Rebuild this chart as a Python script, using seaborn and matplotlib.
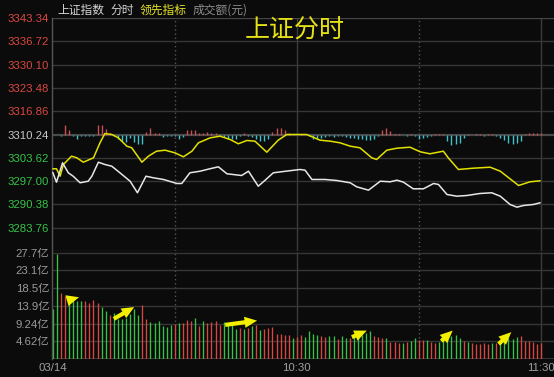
import numpy as np
import matplotlib
matplotlib.use("Agg")
import matplotlib.pyplot as plt
import seaborn as sns

# ---- data (x = minutes after 09:30) ----
white_min = [0, 0.9, 2.4, 3.8, 5.0, 6.7, 8.7, 9.6, 11.2, 12.8, 14.5, 16.5, 19.0, 20.8,
             22.9, 24.7, 27.2, 30.5, 31.7, 33.7, 36.2, 38.6, 40.7, 42.8, 46.4, 48.1,
             50.5, 52.2, 54.2, 56.7, 58.7, 60.8, 62.0, 63.7, 66.9, 69.8, 73.1, 74.7,
             77.6, 80.5, 82.9, 84.6, 86.2, 88.6, 91.1, 93.6, 94.8, 96.9, 99.3, 101.8,
             105.0, 107.9, 110.0, 112.4, 114.1, 115.7, 118.1, 119.8]
white_val = [3299.44, 3296.69, 3302.20, 3299.36, 3298.39, 3296.52, 3296.97, 3298.39,
             3302.37, 3301.72, 3301.23, 3299.36, 3296.97, 3293.68, 3298.39, 3297.94,
             3297.46, 3296.32, 3296.32, 3299.36, 3299.81, 3300.50, 3301.06, 3299.08,
             3298.59, 3299.81, 3295.55, 3297.26, 3299.36, 3299.73, 3300.01, 3300.30,
             3300.10, 3297.46, 3297.46, 3297.17, 3296.52, 3295.38, 3294.42, 3296.97,
             3296.80, 3297.26, 3296.69, 3294.81, 3294.81, 3296.32, 3296.04, 3293.19,
             3292.71, 3292.91, 3293.48, 3293.68, 3292.71, 3290.35, 3289.59, 3290.07,
             3290.35, 3290.84]

yellow_min = [0, 0.9, 1.8, 2.6, 4.6, 5.9, 7.5, 10.0, 11.6, 12.8, 14.5, 16.1, 18.2, 19.4,
              21.9, 23.5, 25.5, 27.6, 30.0, 32.1, 34.2, 35.8, 38.7, 41.1, 43.6, 45.6,
              47.7, 49.7, 52.6, 55.4, 57.5, 60.8, 62.4, 65.7, 68.2, 70.6, 73.1, 75.5,
              78.4, 79.6, 82.1, 84.6, 87.8, 90.3, 92.7, 96.0, 97.2, 99.7, 103.4, 107.5,
              110.0, 114.5, 117.3, 119.8]
yellow_val = [3300.50, 3300.50, 3298.39, 3301.72, 3304.08, 3303.62, 3302.37, 3303.62,
              3307.88, 3310.52, 3310.24, 3309.30, 3306.92, 3306.46, 3302.37, 3304.08,
              3305.50, 3305.78, 3305.04, 3303.90, 3305.50, 3307.88, 3309.30, 3309.76,
              3308.82, 3307.60, 3308.54, 3308.34, 3305.21, 3308.62, 3310.24, 3310.24,
              3310.24, 3308.62, 3308.34, 3307.88, 3306.92, 3306.46, 3303.62, 3303.14,
              3305.78, 3306.35, 3306.63, 3305.33, 3304.76, 3305.50, 3303.62, 3300.30,
              3300.67, 3300.95, 3299.81, 3295.75, 3296.80, 3297.09]

# leading-indicator bars around the previous close, one per minute 0..120
indicator = [0, 0, -0.5, 2.6, 1.4, -0.3, -1.2, -0.4, -0.5, -0.5, -0.3, 2.6, 2.6, 1.6,
             0.3, -0.3, -1.4, -1.9, -2.2, -1.0, -2.2, -2.6, -2.6, 0.7, 1.9, 0.3, 0.3,
             -0.6, -0.5, -0.5, -0.5, -1.2, -0.7, 1.2, 1.2, 1.2, 0.3, 0.3, 0.6, 0.5, 0.4,
             -0.5, -0.7, -1.2, -1.4, -1.4, -0.5, 0.5, -0.5, -0.7, -1.4, -1.9, -1.9, -1.4,
             0.7, 1.9, 1.9, 1.2, 0.5, -0.2, -0.2,
             0.2, 0, -0.3, -1.4, -1.2, -1.0, -0.7, -0.3, -0.7, -0.5, -0.5, -0.7, -1.0,
             -1.0, -1.2, -1.4, -1.6, -1.6, -1.4, -0.3, 1.2, 1.9, 0.9, 0.2, 0.2, -0.2,
             -0.3, 0.2, -0.3, -1.2, -1.0, -0.7, -0.5, 0.2, 0.2, 0.2, -1.9, -3.1, -2.8,
             -2.4, -1.0, 0.2, -0.2, 0.2, 0.2, -0.5, 0.2, 0.2, -0.3, -1.0, -1.6, -2.4,
             -2.8, -2.4, -1.9, 0.2, 0.3, 0.3, 0.3, 0.3]

# turnover per minute (亿元), 1 = up minute (red), 0 = down minute (green)
volume = [13.1, 27.4, 17.2, 16.3, 15.0, 15.2, 15.0, 15.0, 15.0, 14.5, 15.4, 14.5, 13.5,
          12.4, 11.6, 12.1, 10.5, 10.3, 10.7, 11.8, 13.1, 11.4, 14.1, 10.3, 9.6, 9.4,
          9.9, 8.5, 8.3, 8.8, 9.2, 9.4, 9.4, 10.2, 10.0, 10.8, 8.5, 10.0, 9.4, 9.6,
          9.8, 8.8, 9.6, 9.2, 8.8, 7.9, 8.1, 7.9, 8.1, 8.5, 8.8, 7.6, 7.9, 8.1, 8.3,
          6.6, 6.6, 6.2, 6.2, 5.6, 5.8,
          6.2, 5.8, 7.2, 6.6, 6.2, 6.0, 5.8, 6.0, 6.0, 5.2, 6.0, 5.6, 5.4, 5.8, 6.0,
          6.2, 6.9, 7.3, 6.0, 5.7, 5.6, 5.4, 4.5, 4.5, 4.3, 4.2, 4.5, 4.6, 5.4, 4.9,
          4.9, 4.9, 4.5, 4.1, 4.5, 5.1, 5.6, 6.0, 6.2, 5.4, 4.8, 4.5, 4.2, 3.9, 3.9,
          4.2, 3.9, 4.2, 4.2, 4.5, 5.1, 5.6, 5.1, 5.8, 6.0, 4.8, 4.8, 4.5, 3.9, 4.2]
vol_up = [0, 0, 1, 1, 0, 0, 0, 0, 1, 1, 1, 1, 0, 0, 1, 0, 0, 0, 0, 0, 0, 0, 1, 1, 0, 0,
          0, 0, 0, 0, 1, 0, 1, 1, 1, 0, 1, 0, 1, 1, 1, 1, 0, 0, 0, 0, 1, 0, 1, 0, 1, 0,
          1, 1, 1, 1, 1, 1, 1, 0, 1,
          1, 0, 0, 0, 0, 1, 1, 0, 0, 1, 0, 0, 1, 0, 0, 0, 0, 0, 1, 1, 1, 0, 1, 1, 1,
          0, 1, 0, 0, 1, 1, 0, 1, 1, 0, 0, 0, 0, 0, 0, 1, 0, 1, 1, 1, 1, 1, 0, 1, 0,
          0, 0, 0, 0, 1, 1, 1, 1, 1, 1]

prev_close = 3310.24
price_ticks = [3343.34, 3336.72, 3330.10, 3323.48, 3316.86, 3310.24,
               3303.62, 3297.00, 3290.38, 3283.76]
vol_ticks = [4.62, 9.24, 13.86, 18.48, 23.10, 27.72]
vol_labels = ["4.62亿", "9.24亿", "13.9亿", "18.5亿", "23.1亿", "27.7亿"]
time_ticks = [0, 60, 120]
time_labels = ["03/14", "10:30", "11:30"]

# arrows drawn over the turnover panel: (start minute, start value, end minute, end value)
arrows = [(3.4, 15.2, 7.1, 16.3), (14.4, 10.1, 20.6, 13.9), (41.7, 8.8, 50.9, 10.1),
          (72.9, 5.4, 77.8, 7.7), (95.0, 4.2, 98.8, 7.9), (109.1, 3.4, 113.2, 7.5)]

# ---- style ----
sns.set_style("dark")
plt.rcParams["font.family"] = ["Liberation Sans", "Noto Sans CJK SC", "DejaVu Sans"]
BG = "#0b0b0b"
GRID = "#363636"
RED = "#d84842"
GREEN = "#36c348"
CYAN = "#3fc3cf"

W, H = 554, 377
fig = plt.figure(figsize=(W / 100, H / 100), dpi=100, facecolor=BG)

def px_axes(left, top, bottom, right=W):
    return fig.add_axes([left / W, 1 - bottom / H, (right - left) / W, (bottom - top) / H])

ax = px_axes(52, 18, 251)
axv = px_axes(52, 252, 359)
xlim = (-0.2, 123.2)

for a in (ax, axv):
    a.set_facecolor(BG)
    a.set_xlim(*xlim)
    a.grid(False)
    for s in a.spines.values():
        s.set_visible(False)
    a.spines["left"].set_visible(True)
    a.spines["left"].set_color("#555555")
    a.spines["left"].set_linewidth(1)
    a.tick_params(axis="both", length=0, pad=2, labelsize=8.2)
    for m, ls in [(30, (0, (1, 2))), (60, "-"), (90, (0, (1, 2))), (120, "-")]:
        a.axvline(m, color="#3c3c3c" if ls == "-" else "#555555", lw=1, ls=ls, zorder=0)

# ---- price panel ----
ax.set_ylim(prev_close - 5 * 6.62, prev_close + 5 * 6.62)
for v in price_ticks + [prev_close - 5 * 6.62]:
    ax.axhline(v, color="#4a4a4a" if v == prev_close else GRID,
               lw=1.6 if v == prev_close else 1, zorder=0)
ax.axhline(prev_close + 5 * 6.62, color="#4a4a4a", lw=1.2, zorder=0)
ax.set_yticks(price_ticks, labels=[f"{v:.2f}" for v in price_ticks])
for lab, v in zip(ax.get_yticklabels(), price_ticks):
    lab.set_color(RED if v > prev_close + 0.01 else ("#c8c8c8" if abs(v - prev_close) < 0.01 else GREEN))
ax.set_xticks([])

mins = np.arange(len(indicator))
ind = np.array(indicator)
ax.vlines(mins[ind > 0], prev_close, prev_close + ind[ind > 0], color="#c85050", lw=1.0, zorder=2)
ax.vlines(mins[ind < 0], prev_close, prev_close + ind[ind < 0], color=CYAN, lw=1.0, zorder=2)

sns.lineplot(x=yellow_min, y=yellow_val, ax=ax, color="#e2e000", lw=1.1, zorder=3)
sns.lineplot(x=white_min, y=white_val, ax=ax, color="#e6e6e6", lw=1.1, zorder=3)

# ---- turnover panel ----
axv.set_ylim(0, 27.9)
for v in vol_ticks:
    axv.axhline(v, color=GRID, lw=1, zorder=0)
axv.axhline(0, color="#3c3c3c", lw=1.2, zorder=0)
axv.set_yticks(vol_ticks, labels=vol_labels)
for lab in axv.get_yticklabels():
    lab.set_color("#9a9a9a")
vol = np.array(volume)
up = np.array(vol_up) == 1
vm = np.arange(len(vol))
axv.vlines(vm[up], 0, vol[up], color=RED, lw=0.95, zorder=2)
axv.vlines(vm[~up], 0, vol[~up], color=GREEN, lw=0.95, zorder=2)
axv.set_xticks(time_ticks, labels=time_labels)
axv.tick_params(axis="x", colors="#a0a0a0", pad=3)

for x0, y0, x1, y1 in arrows:
    axv.annotate("", xy=(x1, y1), xytext=(x0, y0),
                 arrowprops=dict(arrowstyle="simple,head_width=0.8,head_length=0.9,tail_width=0.3",
                                 color="#f2ef00", lw=0, mutation_scale=10), zorder=5)

# ---- header texts ----
yh = 1 - 10 / H
fig.text(57 / W, yh, "上证指数", color="#d6d6d6", fontsize=8.5, va="center",
         family=["Noto Sans CJK SC"])
fig.text(110 / W, yh, "分时", color="#d0d0d0", fontsize=8.5, va="center",
         family=["Noto Sans CJK SC"])
fig.text(140 / W, yh, "领先指标", color="#e4e22a", fontsize=8.5, va="center",
         family=["Noto Sans CJK SC"])
fig.text(193 / W, yh, "成交额(元)", color="#8c8c8c", fontsize=8.5, va="center",
         family=["Noto Sans CJK SC"])
fig.text(245 / W, 1 - 31 / H, "上证分时", color="#e8e214", fontsize=18, va="center",
         family=["Noto Sans CJK SC"], fontweight="light")

fig.savefig("out.png", dpi=100, facecolor=BG)
